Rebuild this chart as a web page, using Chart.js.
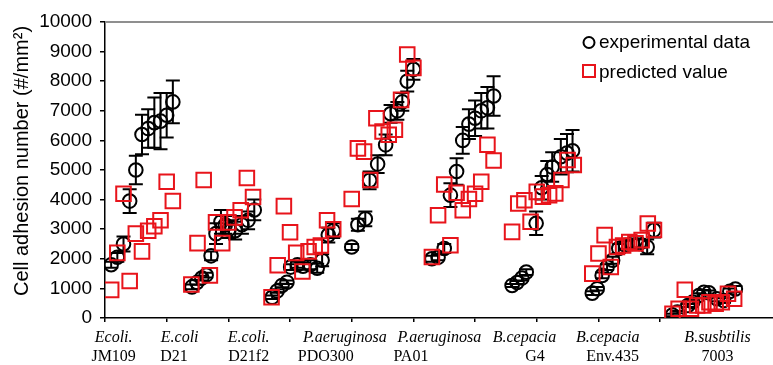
<!DOCTYPE html>
<html><head><meta charset="utf-8">
<script src="https://cdn.jsdelivr.net/npm/chart.js@4.4.1/dist/chart.umd.min.js"></script>
<style>html,body{margin:0;padding:0;background:#fff;overflow:hidden}</style>
</head><body>
<canvas id="c" width="773" height="365" style="display:block;width:773px;height:365px"></canvas>
<script>
// ---- data ----
const strainGenus = ['Ecoli.','E.coli','E.coli.','P.aeruginosa','P.aeruginosa','B.cepacia','B.cepacia','B.susbtilis'];
const strainName  = ['JM109','D21','D21f2','PDO300','PA01','G4','Env.435','7003'];
const yTickStep = 1000;
const yMax = 10000;
const yTitle = 'Cell adhesion number (#/mm²)';

const expX = [
 1,2,3,4,5,6,7,8,9,10,11,
 14.1,14.9,15.7,16.4,17.2,18.0,18.8,19.5,20.1,21.1,22.2,23.2,24.2,
 27.1,27.9,28.7,29.5,30.1,31.2,32.1,33.3,34.4,35.2,36.2,37.0,
 40,41,42.2,42.9,44.2,45.5,46.3,47.4,48.2,49.0,50.0,
 53,54,55,56,57,58,59,60,61,62,63,
 66.0,66.8,67.6,68.3,69.9,70.8,71.7,72.5,73.9,74.9,75.8,
 79.0,79.8,80.6,81.4,82.3,83.3,84.4,85.5,86.6,87.9,89.0,
 92.0,92.8,94.5,95.3,96.3,97.1,97.9,99.2,100.3,101.3,102.2
];
const expY = [
 1800,2050,2500,3950,5000,6200,6400,6600,6650,6850,7300,
 1050,1200,1350,1450,2100,2850,3250,3150,3000,2950,3150,3300,3650,
 700,910,1100,1210,1720,1800,1750,1800,1680,1950,2800,2950,
 2400,3150,3350,4650,5200,5850,6900,7000,7300,8000,8400,
 2000,2050,2350,4150,4950,6000,6550,6750,7000,7100,7500,
 1100,1200,1350,1550,3200,4400,4850,5100,5450,5570,5650,
 840,990,1440,1720,1950,2350,2460,2520,2520,2400,2970,
 100,200,420,540,760,870,850,650,590,900,980
];
const expErr = [
 100,150,250,400,480,670,650,850,950,750,720,
 80,80,80,80,150,350,400,300,300,300,300,300,350,
 60,60,60,60,100,100,120,150,150,200,250,250,
 100,200,250,300,300,350,300,300,300,350,350,
 100,100,150,400,450,450,500,600,600,700,670,
 50,50,80,100,400,400,450,500,600,650,700,
 60,60,100,100,120,150,150,150,150,250,250,
 40,40,50,60,80,80,80,80,80,100,100
];
const predX = [
 1,2,3,4,5,6,7,8,9,10,11,
 14,15,16,17,18,19,20,21,22,23,24,
 27,28,29,30,31,32,33,34,35,36,37,
 40,41,42,43,44,45,46,47,48,49,50,
 53,54,55,56,57,58,59,60,61,62,63,
 66,67,68,69,70,71,72,73,74,75,76,
 79,80,81,82,83,84,85,86,87,88,89,
 92,93,94,95,96,97,98,99,100,101,102
];
const predY = [
 950,2200,4200,1250,2850,2250,2950,3100,3300,4600,3950,
 1130,2530,4660,1440,3230,2530,3230,3400,3640,4730,4090,
 700,1780,3780,2900,2200,1570,2250,2400,2450,3300,3000,
 4020,5730,5620,4660,6750,6300,6190,6360,7370,8900,8450,
 2060,3470,4510,2460,4230,3640,4020,4200,4600,5850,5320,
 2910,3870,3980,3250,4260,4100,4150,4210,4660,5340,5170,
 1500,2180,2800,1720,2400,2450,2570,2520,2630,3190,2970,
 140,310,955,310,420,420,535,480,535,820,650
];
// label anchors along the x axis (axis units), line 1 and line 2
const genusAt = [1.4,12.1,23.3,38.9,54.2,68.0,81.5,99.3];
const nameAt  = [1.4,11.2,23.3,35.8,49.6,69.7,82.3,99.3];

const RED = '#e8141b';
const SANS = '"Liberation Sans", Arial, sans-serif';
const SERIF = '"Liberation Serif", "Times New Roman", serif';
const expPts = expX.map((x,i)=>({x, y: expY[i]}));
const predPts = predX.map((x,i)=>({x, y: predY[i]}));

const errorBars = {
  id:'errorBars',
  beforeDatasetsDraw(chart){
    const {ctx, scales:{x, y}} = chart;
    ctx.save();
    ctx.strokeStyle = '#000'; ctx.lineWidth = 2;
    expX.forEach((v,i)=>{
      const px = x.getPixelForValue(v);
      const t = y.getPixelForValue(expY[i] + expErr[i]);
      const b = y.getPixelForValue(expY[i] - expErr[i]);
      ctx.beginPath();
      ctx.moveTo(px, t); ctx.lineTo(px, b);
      ctx.moveTo(px-7, t); ctx.lineTo(px+7, t);
      ctx.moveTo(px-7, b); ctx.lineTo(px+7, b);
      ctx.stroke();
    });
    ctx.restore();
  }
};

const extras = {
  id:'extras',
  afterDraw(chart){
    const {ctx, chartArea:a, scales:{x}} = chart;
    ctx.save();
    // top frame line
    ctx.strokeStyle = '#8f8f8f'; ctx.lineWidth = 2;
    ctx.beginPath(); ctx.moveTo(a.left, a.top); ctx.lineTo(a.right, a.top); ctx.stroke();
    // y axis title
    ctx.save();
    ctx.translate(22, (a.top + a.bottom) / 2 - 9);
    ctx.rotate(-Math.PI / 2);
    ctx.fillStyle = '#000'; ctx.textAlign = 'center'; ctx.textBaseline = 'middle';
    ctx.font = '20px ' + SANS;
    ctx.fillText(yTitle, 0, 0);
    ctx.restore();
    // category labels
    ctx.fillStyle = '#000'; ctx.textAlign = 'center'; ctx.textBaseline = 'alphabetic';
    strainGenus.forEach((g,i)=>{
      ctx.font = 'italic 16px ' + SERIF;
      ctx.fillText(g, x.getPixelForValue(genusAt[i]), a.bottom + 24);
      ctx.font = '16px ' + SERIF;
      ctx.fillText(strainName[i], x.getPixelForValue(nameAt[i]), a.bottom + 43);
    });
    // legend
    const ds = chart.data.datasets;
    const lx = a.right - 184;
    ctx.lineWidth = 2;
    ctx.strokeStyle = ds[0].borderColor;
    ctx.beginPath(); ctx.arc(lx, a.top + 20.5, 5.5, 0, Math.PI*2); ctx.stroke();
    ctx.strokeStyle = ds[1].borderColor;
    ctx.strokeRect(lx - 6, a.top + 43, 12, 12);
    ctx.fillStyle = '#000'; ctx.textAlign = 'left';
    ctx.font = '19px ' + SANS;
    ctx.fillText(ds[0].label, lx + 10, a.top + 26);
    ctx.fillText(ds[1].label, lx + 10, a.top + 56);
    ctx.restore();
  }
};

new Chart(document.getElementById('c'), {
  type: 'scatter',
  data: { datasets: [
    { label:'experimental data', data: expPts, pointStyle:'circle', pointRadius:6.8, pointBorderWidth:2,
      borderColor:'#000', backgroundColor:'rgba(0,0,0,0)', order:2 },
    { label:'predicted value', data: predPts, pointStyle:'rect', pointRadius:10.3, pointBorderWidth:2,
      borderColor:RED, backgroundColor:'rgba(0,0,0,0)', order:1 }
  ]},
  options: {
    responsive:false, animation:false, events:[],
    layout:{ autoPadding:false, padding:{ top:22, right:0, bottom:0, left:0 } },
    plugins:{ legend:{display:false}, tooltip:{enabled:false} },
    scales:{
      x:{ type:'linear', min:0, max:108.3,
          ticks:{ stepSize:10, display:false },
          grid:{ drawOnChartArea:false, drawTicks:true, tickLength:4, color:'#000', tickColor:'#000', lineWidth:1.5 },
          border:{ color:'#000', width:1.5 },
          afterBuildTicks(s){ s.ticks = s.ticks.filter(t => Math.abs(t.value % 10) < 1e-6); },
          afterFit(s){ s.height = 47; } },
      y:{ min:0, max:yMax,
          ticks:{ stepSize:yTickStep, color:'#000', padding:8, font:{ family:SANS, size:19 },
                  callback:(v)=>String(v) },
          grid:{ drawOnChartArea:false, drawTicks:true, tickLength:5, color:'#000', tickColor:'#000', lineWidth:1.5 },
          border:{ color:'#000', width:1.5 },
          title:{ display:false },
          afterFit(s){ s.width = 105; } }
    }
  },
  plugins:[errorBars, extras]
});
</script>
</body></html>
